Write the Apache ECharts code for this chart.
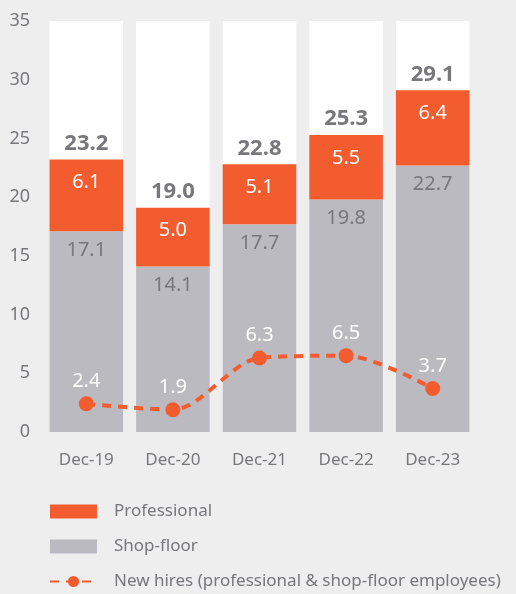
<!DOCTYPE html>
<html>
<head>
    <meta charset="UTF-8"/>
    <title>Employees</title>
    <style>
        html, body { margin: 0; padding: 0; background: #eeeeee; }
        #chart { width: 516px; height: 594px; }
    </style>
</head>
<body>
<div id="chart"></div>
<script src="https://cdn.jsdelivr.net/npm/echarts@6/dist/echarts.min.js"></script>
<script>
    // data
    const categories = ["Dec-19", "Dec-20", "Dec-21", "Dec-22", "Dec-23"];
    const shopFloor = [17.1, 14.1, 17.7, 19.8, 22.7];
    const professional = [6.1, 5.0, 5.1, 5.5, 6.4];
    const totals = [23.2, 19.0, 22.8, 25.3, 29.1];
    const newHires = [2.4, 1.9, 6.3, 6.5, 3.7];

    const ORANGE = "#f25c2f";
    const GREY = "#bbbac0";
    const TEXT = "#77777c";
    const FONT = "Noto Sans";

    const chart = echarts.init(document.getElementById("chart"));
    chart.setOption({
        backgroundColor: "#eeeeee",
        textStyle: {fontFamily: FONT},
        animation: false,
        grid: {left: 43, right: 40, top: 21, bottom: 162},
        legend: {
            orient: "vertical",
            left: 49,
            top: 503,
            padding: 0,
            itemWidth: 47,
            itemHeight: 14,
            itemGap: 18,
            textStyle: {fontSize: 17, color: TEXT, fontFamily: FONT, padding: [0, 0, 0, 12]},
            data: [
                {name: "Professional", icon: "rect"},
                {name: "Shop-floor", icon: "rect"},
                "New hires (professional & shop-floor employees)"
            ]
        },
        xAxis: {
            type: "category",
            data: categories,
            axisLine: {show: false},
            axisTick: {show: false},
            axisLabel: {color: TEXT, fontSize: 17, margin: 20}
        },
        yAxis: {
            type: "value",
            min: 0,
            max: 35,
            interval: 5,
            splitLine: {show: false},
            axisLabel: {color: TEXT, fontSize: 18, margin: 13}
        },
        series: [
            {
                name: "Shop-floor",
                type: "bar",
                stack: "total",
                data: shopFloor,
                barCategoryGap: "15%",
                showBackground: true,
                backgroundStyle: {color: "#ffffff"},
                itemStyle: {color: GREY},
                label: {
                    show: true, position: "insideTop", distance: 9,
                    color: TEXT, fontSize: 20,
                    formatter: p => p.value.toFixed(1)
                }
            },
            {
                name: "Professional",
                type: "bar",
                stack: "total",
                data: professional,
                itemStyle: {color: ORANGE},
                label: {
                    show: true, position: "insideTop", distance: 13,
                    color: "#ffffff", fontSize: 20,
                    formatter: p => p.value.toFixed(1)
                }
            },
            {
                name: "Total",
                type: "bar",
                stack: "total",
                data: totals.map(() => 0),
                itemStyle: {color: "transparent"},
                label: {
                    show: true, position: "top", distance: 5,
                    color: TEXT, fontSize: 22, fontWeight: "bold",
                    formatter: p => totals[p.dataIndex].toFixed(1)
                }
            },
            {
                name: "New hires (professional & shop-floor employees)",
                type: "line",
                data: newHires,
                smooth: 0.3,
                symbol: "circle",
                symbolSize: 15,
                itemStyle: {color: ORANGE},
                lineStyle: {color: ORANGE, width: 4, type: [9, 7]},
                label: {
                    show: true, position: "top", distance: 5,
                    color: "#ffffff", fontSize: 20,
                    formatter: p => p.value.toFixed(1)
                },
                z: 5
            }
        ]
    });
</script>
</body>
</html>
